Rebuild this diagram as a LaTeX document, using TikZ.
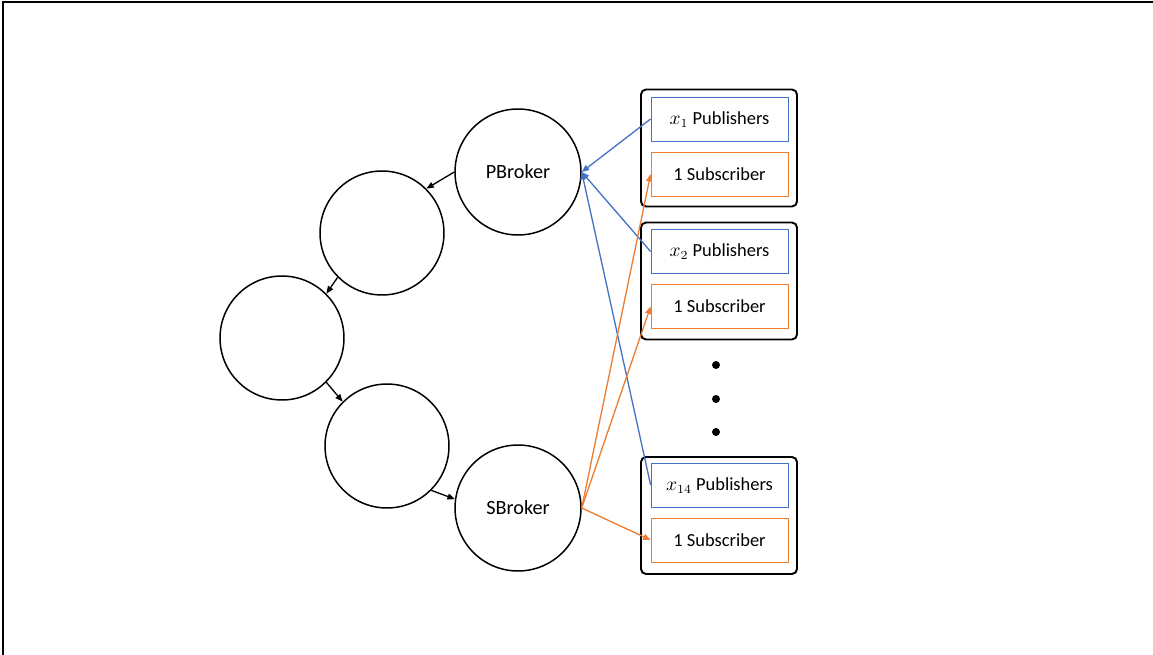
\documentclass[tikz,border=0pt]{standalone}
\usepackage{fontspec}
\setmainfont{Carlito}
\usetikzlibrary{calc,arrows.meta}

\definecolor{pubblue}{HTML}{4472C4}
\definecolor{suborange}{HTML}{ED7D31}

\begin{document}
\begin{tikzpicture}[x=0.02cm,y=-0.02cm]
  % Estilos de los nodos y conectores
  \tikzstyle{broker} = [draw, line width=0.85pt, circle, minimum size=2.52cm, inner sep=0pt, font=\fontsize{11.5}{13}\selectfont];
  \tikzstyle{groupbox} = [draw, line width=1.1pt, rounded corners=1mm, minimum width=3.12cm, minimum height=2.34cm, inner sep=0pt];
  \tikzstyle{pubbox} = [draw=pubblue, line width=0.45pt, minimum width=2.74cm, minimum height=0.88cm, inner sep=0pt, text depth=0.3ex, font=\fontsize{10.5}{12}\selectfont];
  \tikzstyle{subbox} = [draw=suborange, line width=0.45pt, minimum width=2.74cm, minimum height=0.88cm, inner sep=0pt, font=\fontsize{10.5}{12}\selectfont];
  \tikzstyle{ring} = [line width=0.75pt, -{Triangle[length=1.5mm,width=1.2mm]}];
  \tikzstyle{publink} = [pubblue, line width=0.75pt, -{Triangle[length=1.5mm,width=1.2mm]}];
  \tikzstyle{sublink} = [suborange, line width=0.75pt, -{Triangle[length=1.5mm,width=1.2mm]}];

  % Marco de la diapositiva
  \useasboundingbox (0,0) rectangle (1153,655);
  \draw[line width=0.6pt] (3,655) -- (3,2) -- (1153,2);

  % Anillo de brokers
  \node [broker] (pb) at (518,172) {PBroker};
  \node [broker, minimum size=2.48cm] (c1) at (382,233) {};
  \node [broker, minimum size=2.48cm] (c2) at (282,338) {};
  \node [broker, minimum size=2.48cm] (c3) at (387,446) {};
  \node [broker] (sb) at (518,508) {SBroker};

  \draw [ring] (pb.west) -- (c1.45);
  \draw [ring] (c1.225) -- (c2.45);
  \draw [ring] (c2.-45) -- (c3.135);
  \draw [ring] (c3.-45) -- (sb.172);

  % Grupos de clientes
  \node [groupbox] (g1) at (719,148) {};
  \node [pubbox] (pub1) at (719.5,119) {$x_1$ Publishers};
  \node [subbox] (sub1) at (719.5,174) {1 Subscriber};

  \node [groupbox] (g2) at (719,281) {};
  \node [pubbox] (pub2) at (719.5,251.5) {$x_2$ Publishers};
  \node [subbox] (sub2) at (719.5,306.5) {1 Subscriber};

  \node [groupbox] (g14) at (719,515.5) {};
  \node [pubbox] (pub14) at (719.5,485) {$x_{14}$ Publishers};
  \node [subbox] (sub14) at (719.5,540) {1 Subscriber};

  % Puntos suspensivos
  \foreach \y/\n in {365/d1,399/d2,432/d3}
    \node [circle, fill, inner sep=0pt, minimum size=0.16cm] (\n) at (716,\y) {};

  % Conexiones de publicadores y suscriptores
  \draw [publink] (pub1.west) -- (pb.east);
  \draw [publink] (pub2.west) -- (pb.east);
  \draw [publink] (pub14.west) -- (pb.east);
  \draw [sublink] (sb.east) -- (sub1.west);
  \draw [sublink] (sb.east) -- (sub2.west);
  \draw [sublink] (sb.east) -- (sub14.west);
\end{tikzpicture}
\end{document}
